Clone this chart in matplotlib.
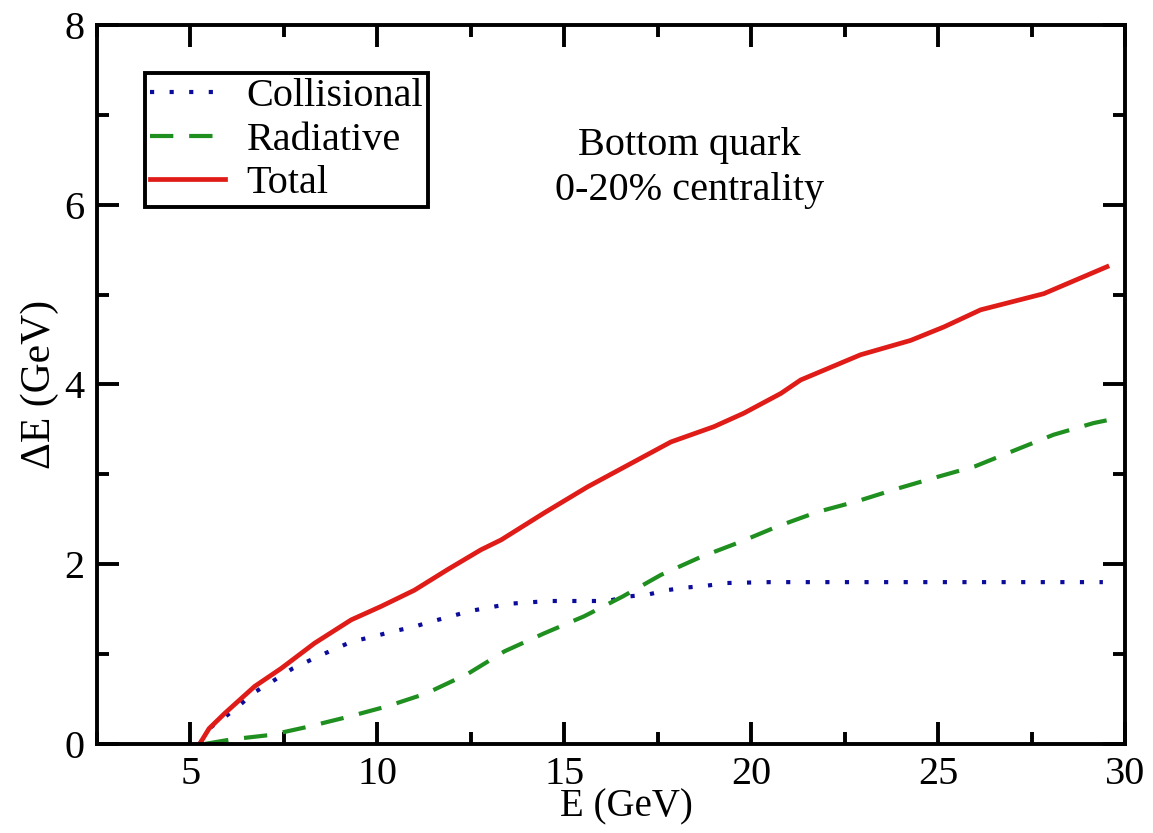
import matplotlib
matplotlib.use("Agg")
import matplotlib.pyplot as plt
from matplotlib.ticker import MultipleLocator

plt.rcParams['font.family'] = ['Liberation Serif', 'DejaVu Serif']
plt.rcParams['mathtext.fontset'] = 'stix'

# Data
E_total = [5.25, 5.5, 5.92, 6.72, 7.43, 8.32, 9.30, 10.1, 10.99, 11.88, 12.77,
           13.31, 14.46, 15.62, 16.69, 17.85, 19.0, 19.8, 20.79, 21.32, 22.92,
           24.26, 25.15, 26.13, 27.82, 29.51]
dE_total = [0.0, 0.17, 0.34, 0.64, 0.84, 1.12, 1.38, 1.53, 1.71, 1.94, 2.16,
            2.27, 2.57, 2.86, 3.10, 3.36, 3.53, 3.68, 3.90, 4.05, 4.33,
            4.49, 4.64, 4.83, 5.01, 5.31]

E_coll = [5.25, 5.5, 6.18, 6.7, 7.25, 7.74, 8.30, 8.83, 9.33, 9.86, 10.4, 10.95,
          11.44, 11.97, 12.5, 13.55, 14.6, 15.67, 16.16, 16.69, 17.22, 17.73,
          18.27, 18.8, 19.33, 20.5, 25.0, 29.4]
dE_coll = [0.0, 0.17, 0.38, 0.57, 0.71, 0.84, 0.95, 1.05, 1.14, 1.19, 1.25, 1.30,
           1.36, 1.42, 1.48, 1.56, 1.59, 1.59, 1.59, 1.64, 1.66, 1.71,
           1.74, 1.76, 1.79, 1.80, 1.80, 1.80]

E_rad = [5.4, 6.1, 7.16, 8.14, 9.21, 10.28, 11.3, 12.42, 13.4, 14.46, 15.53,
         16.56, 17.58, 18.65, 19.72, 20.7, 21.76, 22.83, 23.9, 24.97, 25.99,
         27.06, 28.08, 29.15, 29.5]
dE_rad = [0.0, 0.05, 0.10, 0.19, 0.30, 0.42, 0.56, 0.78, 1.03, 1.23, 1.42,
          1.64, 1.88, 2.08, 2.25, 2.42, 2.58, 2.70, 2.84, 2.97, 3.09,
          3.27, 3.44, 3.57, 3.60]

labels = ['Collisional', 'Radiative', 'Total']
x_ticks = [5, 10, 15, 20, 25, 30]
y_ticks = [0, 2, 4, 6, 8]

fig = plt.figure(figsize=(11.53, 8.33), dpi=100)
ax = fig.add_axes([0.084, 0.107, 0.892, 0.863])

ax.plot(E_coll, dE_coll, color='#0c0c9c', lw=3.0, linestyle=(0, (1, 3.7)),
        label=labels[0])
ax.plot(E_rad, dE_rad, color='#1f8f1f', lw=3.0, linestyle=(0, (5.6, 3.8)),
        label=labels[1])
ax.plot(E_total, dE_total, color='#e01c18', lw=3.4, linestyle='-',
        label=labels[2])

ax.set_xlim(2.5, 30)
ax.set_ylim(0, 8)
ax.set_xticks(x_ticks)
ax.set_yticks(y_ticks)
ax.xaxis.set_minor_locator(MultipleLocator(2.5))
ax.yaxis.set_minor_locator(MultipleLocator(1))

for s in ax.spines.values():
    s.set_linewidth(2.8)
ax.tick_params(which='major', direction='in', length=16, width=2.8,
               top=True, right=True, labelsize=29, pad=9)
ax.tick_params(which='minor', direction='in', length=8.5, width=2.8,
               top=True, right=True)

ax.set_xlabel('E (GeV)', fontsize=28)
ax.xaxis.set_label_coords(0.515, -0.1015, transform=ax.transAxes)
ax.xaxis.label.set_va('baseline')
ax.set_ylabel('ΔE (GeV)', fontsize=30, labelpad=4)

ax.text(18.35, 6.55, 'Bottom quark', fontsize=29, ha='center', va='baseline')
ax.text(18.35, 6.05, '0-20% centrality', fontsize=29, ha='center', va='baseline')

leg = ax.legend(loc='upper left', bbox_to_anchor=(0.047, 0.933), fontsize=29,
                frameon=True, fancybox=False, handlelength=1.85,
                handletextpad=0.55, borderpad=0.12, labelspacing=0.16,
                borderaxespad=0)
leg.get_frame().set_edgecolor('black')
leg.get_frame().set_linewidth(2.8)
leg.get_frame().set_alpha(1)

fig.savefig('out.png', dpi=100)
